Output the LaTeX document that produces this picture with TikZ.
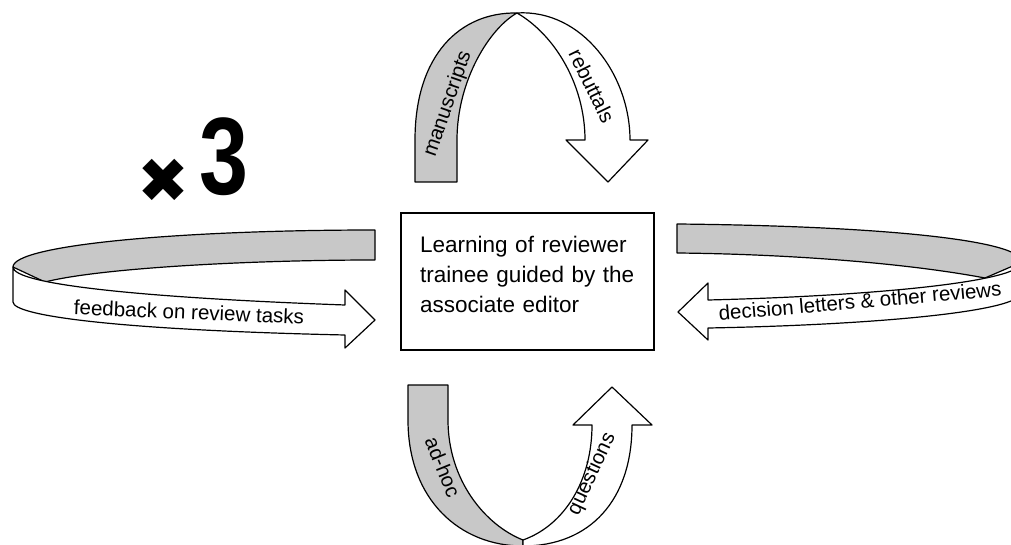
\documentclass[tikz,border=0pt]{standalone}
\usepackage{fontspec}
\setmainfont{Liberation Sans}
\newfontfamily\dejavu{DejaVu Sans}
\definecolor{ribgray}{RGB}{200,200,200}
\tikzset{
  ribback/.style={draw=black, line width=1.2pt, fill=ribgray, line join=round},
  ribfront/.style={draw=black, line width=1.2pt, fill=white, line join=round},
  lab/.style={font=\fontsize{20.5}{24}\selectfont, inner sep=0pt},
}
\begin{document}
\begin{tikzpicture}[x=1pt,y=-1pt]
\useasboundingbox (0,0) rectangle (1011,545);
\fill[white] (0,0) rectangle (1011,545);
\clip (0,0) rectangle (1011,545);

% ---------- top ribbon ----------
\draw[ribback] (415,182) -- (415,140) .. controls (415,55) and (460,12) .. (517,13)
  .. controls (490,28) and (457,80) .. (457,140) -- (457,182) -- cycle;
\draw[ribfront] (517,13) .. controls (582,9) and (630,75) .. (630,140) -- (648,140) -- (608,182)
  -- (566,140) -- (585,140) .. controls (585,85) and (555,35) .. (517,13) -- cycle;
\node[lab, rotate=71] (manus) at (448,104) {manuscripts};
\node[lab, rotate=-64] (rebut) at (592,86) {rebuttals};

% ---------- left ribbon ----------
\draw[ribback] (375,230) .. controls (180,230) and (13,245) .. (13,267)
  -- (45,282) .. controls (100,268) and (250,260) .. (375,260) -- cycle;
\draw[ribfront] (13,267) -- (13,302) .. controls (13,316) and (120,330) .. (345,335)
  -- (345,348) -- (375,320) -- (345,290) -- (345,305)
  .. controls (150,298) and (13,285) .. (13,267) -- cycle;
\node[lab, rotate=-2.5] (feed) at (189,312) {feedback on review tasks};

% ---------- right ribbon ----------
\draw[ribback] (677,224) .. controls (880,226) and (1022,240) .. (1022,262)
  -- (985,278) .. controls (900,262) and (780,254) .. (677,253) -- cycle;
\draw[ribfront] (1022,262) -- (1022,292) .. controls (1022,312) and (870,325) .. (708,328)
  -- (708,340) -- (678,312) -- (708,283) -- (708,300)
  .. controls (870,296) and (1022,282) .. (1022,262) -- cycle;
\node[lab, rotate=5] (decis) at (860,301) {decision letters \& other reviews};

% ---------- bottom ribbon ----------
\draw[ribback] (408,385) -- (448,385) -- (448,420) .. controls (448,480) and (485,525) .. (523,540)
  -- (523,546) .. controls (460,546) and (408,500) .. (408,420) -- cycle;
\draw[ribfront] (523,540) .. controls (565,525) and (592,480) .. (592,425) -- (573,425) -- (612,387)
  -- (652,425) -- (632,425) .. controls (632,500) and (590,546) .. (523,546) -- cycle;
\node[lab, rotate=-68] (adhoc) at (443,467) {ad-hoc};
\node[lab, rotate=65] (quest) at (592,474) {questions};

% ---------- centre box ----------
\draw[line width=1.4pt] (401,213) rectangle (654,350);
\node[anchor=north west, inner sep=0pt, text width=222pt, align=left,
  font=\fontsize{22.5}{30}\selectfont] (learn) at (420,235.5)
  {\makebox[208pt][s]{Learning of reviewer}\\trainee guided by the\\associate editor};

% ---------- x3 ----------
\node[inner sep=0pt, font=\dejavu\fontsize{62}{62}\selectfont] (times) at (163,181) {✖};
\node[anchor=base west, inner sep=0pt, xscale=0.8,
  font=\bfseries\fontsize{110}{110}\selectfont] (three) at (199,195) {3};
\end{tikzpicture}
\end{document}
